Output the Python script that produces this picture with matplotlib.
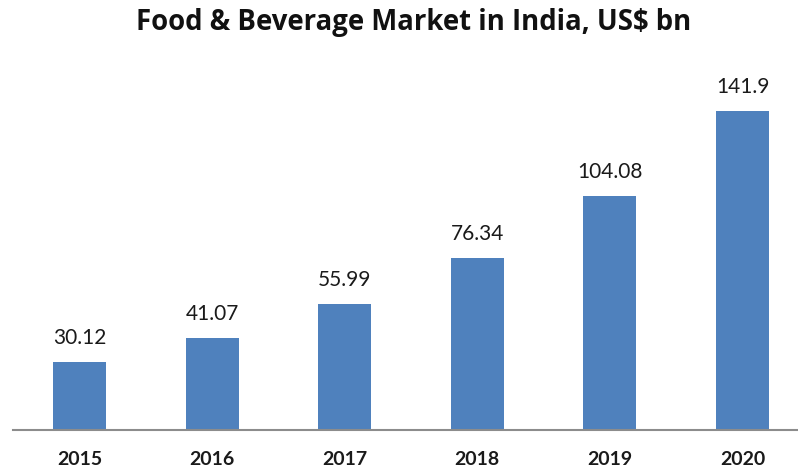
import matplotlib
matplotlib.use("Agg")
import matplotlib.pyplot as plt

years = ["2015", "2016", "2017", "2018", "2019", "2020"]
values = [30.12, 41.07, 55.99, 76.34, 104.08, 141.9]
labels = ["30.12", "41.07", "55.99", "76.34", "104.08", "141.9"]

W, H = 798, 470
fig = plt.figure(figsize=(W / 100, H / 100), dpi=100)
base_px = 430
top_px = 70
left_px = 13.2
ax = fig.add_axes([left_px / W, (H - base_px) / H, (W - left_px) / W, (base_px - top_px) / H])

bar_color = "#4F81BD"
x = list(range(len(years)))
ax.bar(x, values, width=0.40, color=bar_color, zorder=2)

ymax = 141.9 * (base_px - top_px) / (430 - 111)
ax.set_ylim(0, ymax)
ax.set_xlim(-0.5, 5.5 - (808.8 - W) / 132.6)

for xi, v, lab in zip(x, values, labels):
    ax.annotate(lab, (xi, v), xytext=(0, 13), textcoords="offset points",
                ha="center", va="baseline", fontsize=15, family="Lato", color="#1a1a1a")

for s in ["top", "right", "left"]:
    ax.spines[s].set_visible(False)
ax.spines["bottom"].set_color("#8c8c8c")
ax.spines["bottom"].set_linewidth(1.5)
ax.set_yticks([])
ax.set_xticks(x)
ax.set_xticklabels(years, fontsize=14, family="Lato", fontweight="bold", color="#1a1a1a")
ax.tick_params(axis="x", length=0, pad=15)

fig.text(414 / W, 1 - 30 / H, "Food & Beverage Market in India, US$ bn", ha="center", va="baseline",
         fontsize=19.8, family="Open Sans", fontweight="bold", color="#111111")

fig.savefig("out.png", dpi=100)
